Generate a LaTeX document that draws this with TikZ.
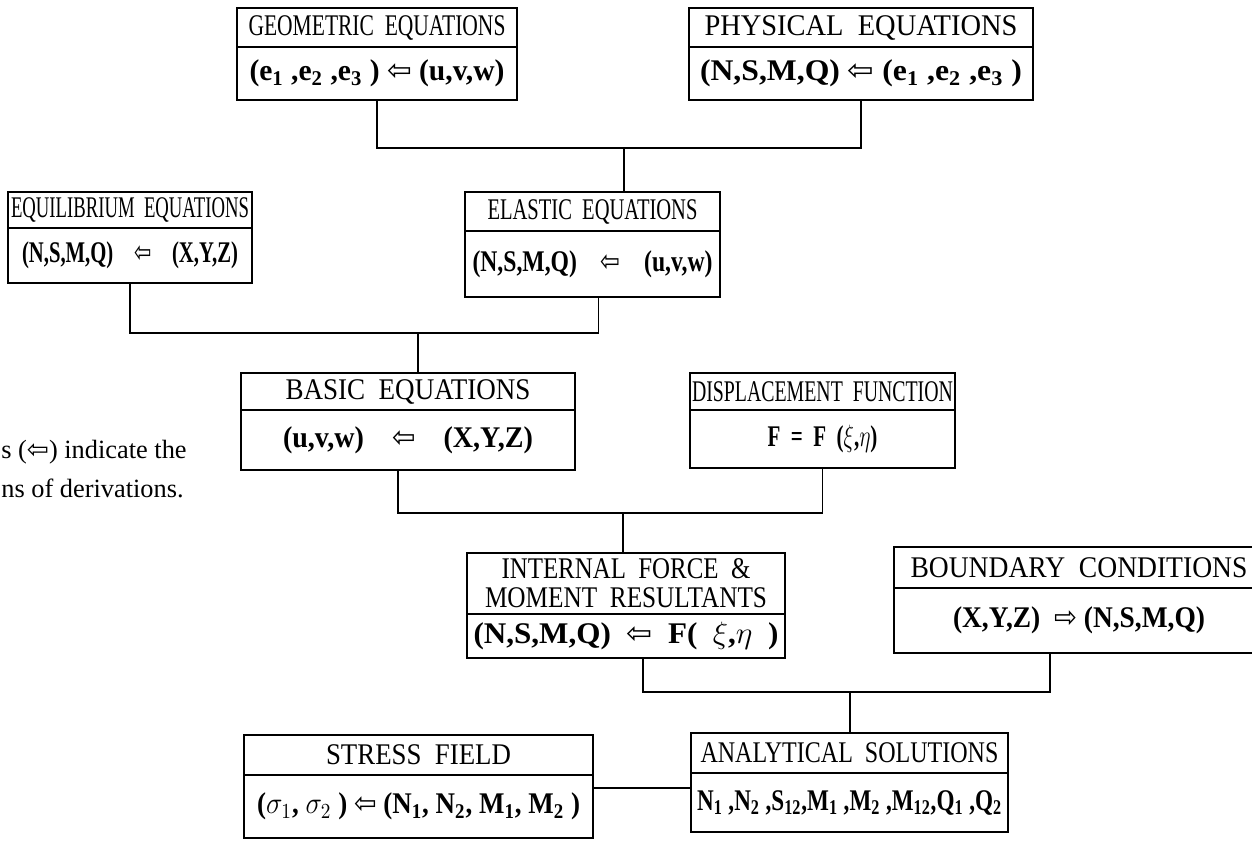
\documentclass[tikz,border=0pt]{standalone}
\usepackage{fontspec}
\setmainfont{Liberation Serif}
\newfontfamily\boxfont{Liberation Serif}
\newfontfamily\arrfont{DejaVu Sans}
\usetikzlibrary{positioning}
\newcommand{\larr}{{\arrfont\mdseries ⇦}}
\newcommand{\rarr}{{\arrfont\mdseries ⇨}}
\newcommand{\fitto}[2]{\resizebox{#1}{1.22\height}{#2}}

\begin{document}
\begin{tikzpicture}[
  x=0.02cm,y=-0.02cm,
  head/.style={draw,line width=1pt,inner sep=1pt,outer sep=0pt,align=center,
    font=\boxfont\fontsize{14}{15}\selectfont},
  body/.style={head,font=\boxfont\bfseries\fontsize{14}{15}\selectfont},
  link/.style={line width=1pt}
]
  \useasboundingbox (0,0) rectangle (1252,840);

  % Top row
  \node[head,minimum width=5.6cm,minimum height=0.78cm] (geo) at (377,27.5)
    {\fitto{5.14cm}{GEOMETRIC~~EQUATIONS}};
  \node[body,minimum width=5.6cm,minimum height=1.06cm,below=0pt of geo] (geob)
    {\fitto{5.1cm}{(e\textsubscript{1} ,e\textsubscript{2} ,e\textsubscript{3} ) \larr{} (u,v,w)}};
  \node[head,minimum width=6.88cm,minimum height=0.78cm] (phys) at (861,27.5)
    {\fitto{6.26cm}{PHYSICAL~~EQUATIONS}};
  \node[body,minimum width=6.88cm,minimum height=1.06cm,below=0pt of phys] (physb)
    {\fitto{6.44cm}{(N,S,M,Q) \larr{} (e\textsubscript{1} ,e\textsubscript{2} ,e\textsubscript{3} )}};

  % Second row
  \node[head,minimum width=4.88cm,minimum height=0.72cm] (equil) at (130,210)
    {\fitto{4.76cm}{EQUILIBRIUM~~EQUATIONS}};
  \node[body,minimum width=4.88cm,minimum height=1.1cm,below=0pt of equil] (equilb)
    {\fitto{4.32cm}{(N,S,M,Q)\quad\larr\quad(X,Y,Z)}};
  \node[head,minimum width=5.1cm,minimum height=0.78cm] (elast) at (592.5,211.5)
    {\fitto{4.2cm}{ELASTIC~~EQUATIONS}};
  \node[body,minimum width=5.1cm,minimum height=1.32cm,below=0pt of elast] (elastb)
    {\fitto{4.8cm}{(N,S,M,Q)\quad\larr\quad(u,v,w)}};

  % Third row
  \node[head,minimum width=6.68cm,minimum height=0.74cm] (basic) at (408,391.5)
    {\fitto{4.9cm}{BASIC~~EQUATIONS}};
  \node[body,minimum width=6.68cm,minimum height=1.2cm,below=0pt of basic] (basicb)
    {\fitto{5cm}{(u,v,w)\quad\larr\quad(X,Y,Z)}};
  \node[head,minimum width=5.3cm,minimum height=0.74cm] (disp) at (822.5,391.5)
    {\fitto{5.22cm}{DISPLACEMENT~~FUNCTION}};
  \node[body,minimum width=5.3cm,minimum height=1.16cm,below=0pt of disp] (dispb)
    {\fitto{2.2cm}{F~~=~~F~~($\xi$,$\eta$)}};

  % Fourth row
  \node[head,minimum width=6.36cm,minimum height=1.22cm] (intl) at (626,583.5)
    {\fitto{4.98cm}{INTERNAL~~FORCE~~\&}\\[1.5pt]\fitto{5.64cm}{MOMENT~~RESULTANTS}};
  \node[body,minimum width=6.36cm,minimum height=0.88cm,below=0pt of intl] (intlb)
    {\fitto{6.1cm}{(N,S,M,Q)~~\larr~~F(~~$\xi$,$\eta$~~)}};
  \node[head,minimum width=7.4cm,minimum height=0.82cm] (bound) at (1079,567.5)
    {\fitto{6.74cm}{BOUNDARY~~CONDITIONS}};
  \node[body,minimum width=7.4cm,minimum height=1.3cm,below=0pt of bound] (boundb)
    {\fitto{5.04cm}{(X,Y,Z)~~\rarr{} (N,S,M,Q)}};

  % Bottom row
  \node[head,minimum width=6.34cm,minimum height=0.8cm] (anal) at (849.5,753)
    {\fitto{5.96cm}{ANALYTICAL~~SOLUTIONS}};
  \node[body,minimum width=6.34cm,minimum height=1.18cm,below=0pt of anal] (analb)
    {\fitto{6.1cm}{N\textsubscript{1} ,N\textsubscript{2} ,S\textsubscript{12},M\textsubscript{1} ,M\textsubscript{2} ,M\textsubscript{12},Q\textsubscript{1} ,Q\textsubscript{2}}};
  \node[head,minimum width=6.98cm,minimum height=0.8cm] (stress) at (418.5,755)
    {\fitto{3.7cm}{STRESS~~FIELD}};
  \node[body,minimum width=6.98cm,minimum height=1.26cm,below=0pt of stress] (stressb)
    {\fitto{6.46cm}{($\sigma_1$, $\sigma_2$ ) \larr{} (N\textsubscript{1}, N\textsubscript{2}, M\textsubscript{1}, M\textsubscript{2} )}};

  % Note
  \node[anchor=west,align=left,inner sep=0pt,font=\fontsize{15}{22.7}\selectfont] (note) at (1,469)
    {s ({\arrfont ⇦}) indicate the\\ns of derivations.};

  % Connectors
  \coordinate (j1) at (624,148);
  \coordinate (j2) at (418,333);
  \coordinate (j3) at (623,513);
  \coordinate (j4) at (850,692);
  \draw[link] (geob.south) |- (j1) -| (physb.south);
  \draw[link] (j1) -- (j1 |- elast.north);
  \draw[link] (equilb.south) |- (j2) -| ([xshift=0.12cm]elastb.south);
  \draw[link] (j2) -- (j2 |- basic.north);
  \draw[link] ([xshift=-0.2cm]basicb.south) |- (j3) -| (dispb.south);
  \draw[link] (j3) -- (j3 |- intl.north);
  \draw[link] ([xshift=0.34cm]intlb.south) |- (j4) -| ([xshift=-0.58cm]boundb.south);
  \draw[link] (j4) -- (j4 |- anal.north);
  \draw[link] (stressb.east |- 0,788) -- (analb.west |- 0,788);
\end{tikzpicture}
\end{document}
